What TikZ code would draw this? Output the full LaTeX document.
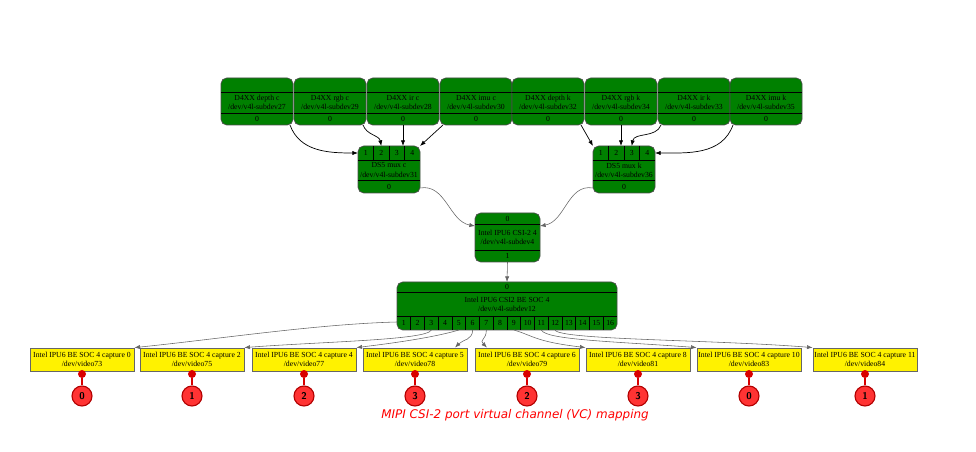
\documentclass[tikz,border=0pt]{standalone}
\usepackage{fontspec}
\setmainfont{Liberation Serif}
\newfontfamily\notefont{DejaVu Sans}
\usetikzlibrary{calc,positioning,arrows.meta}

\tikzset{
	ent/.style={draw=black!70, fill=green!50!black, rounded corners=4pt, line width=0.5pt},
	capbox/.style={draw=black!60, fill=yellow, line width=0.6pt, minimum width=104*0.025cm, minimum height=23*0.025cm, inner sep=0pt, align=center, font=\fontsize{5.5}{6.5}\selectfont},
	txt/.style={font=\fontsize{5.5}{6.5}\selectfont, align=center, inner sep=0pt},
	link/.style={-{Latex[length=4pt,width=3pt]}, line width=0.5pt},
	slink/.style={-{Latex[length=4pt,width=3pt]}, draw=black!60, line width=0.4pt},
	vcdot/.style={circle, fill=red!85!black, minimum size=8*0.025cm, inner sep=0pt},
	vc/.style={circle, draw=red!70!black, fill=red!80, line width=0.8pt, minimum size=20*0.025cm, inner sep=0pt, font=\sffamily\bfseries\fontsize{7}{8}\selectfont},
}

\begin{document}
\begin{tikzpicture}[x=0.025cm, y=-0.025cm]
			\useasboundingbox (0,0) rectangle (976,452);

			% sensor entities: name / centre x / kind / subdev
			\foreach \n/\cx/\kind/\sd in {dc/257/depth c/27, rc/330/rgb c/29, ic/403/ir c/28, uc/476/imu c/30,
				dk/548/depth k/32, rk/621/rgb k/34, ik/694/ir k/33, uk/766/imu k/35}{
				\draw[ent] (\cx-36,78) rectangle (\cx+36,125);
				\draw (\cx-36,92) -- (\cx+36,92) (\cx-36,113) -- (\cx+36,113);
				\node[txt] (\n) at (\cx,102.5) {D4XX \kind\\/dev/v4l-subdev\sd};
				\node[txt] (\n0) at (\cx,119) {0};
				\coordinate (\n-b) at (\cx,125);
			}

			% mux entities
			\foreach \n/\cx/\kind/\sd in {muxc/389/c/31, muxk/624/k/36}{
				\draw[ent] (\cx-31,146) rectangle (\cx+31,193);
				\draw (\cx-31,160) -- (\cx+31,160) (\cx-31,180) -- (\cx+31,180);
				\foreach \p in {1,2,3}
					\draw (\cx-31+\p*15.5,146) -- (\cx-31+\p*15.5,160);
				\foreach \p in {1,...,4}{
					\node[txt] (\n\p) at (\cx-31+\p*15.5-7.75,153) {\p};
					\coordinate (\n-t\p) at (\cx-31+\p*15.5-7.75,146);
				}
				\node[txt] (\n) at (\cx,170) {DS5 mux \kind\\/dev/v4l-subdev\sd};
				\node[txt] (\n0) at (\cx,186.5) {0};
				\coordinate (\n-w) at (\cx-31,153);
				\coordinate (\n-e) at (\cx+31,153);
				\coordinate (\n-nw) at (\cx-31,146);
				\coordinate (\n-ne) at (\cx+31,146);
				\coordinate (\n-ow) at (\cx-31,188);
				\coordinate (\n-oe) at (\cx+31,188);
			}

			% csi-2 receiver
			\draw[ent] (475,213) rectangle (540,262);
			\draw (475,224) -- (540,224) (475,250) -- (540,250);
			\node[txt] (csi0) at (507.5,218.5) {0};
			\node[txt] (csi) at (507.5,237) {Intel IPU6 CSI-2 4\\/dev/v4l-subdev4};
			\node[txt] (csi1) at (507.5,256) {1};
			\coordinate (csiL) at (475,226);
			\coordinate (csiR) at (540,226);
			\coordinate (csiB) at (507.5,262);

			% back end
			\draw[ent] (397,282) rectangle (617,330);
			\draw (397,292) -- (617,292) (397,316) -- (617,316);
			\foreach \p in {1,...,15}
				\draw (397+\p*13.75,316) -- (397+\p*13.75,330);
			\node[txt] (be0) at (507,287) {0};
			\node[txt] (be) at (507,304) {Intel IPU6 CSI2 BE SOC 4\\/dev/v4l-subdev12};
			\foreach \p in {1,...,16}{
				\node[txt] (be\p) at (397+\p*13.75-6.875,323) {\p};
				\coordinate (be-b\p) at (397+\p*13.75-6.875,330);
			}
			\coordinate (beT) at (507,282);
			\coordinate (beW) at (397,322);

			% capture nodes and VC markers
			\foreach \n/\cx/\c/\vid/\v in {c0/82/0/73/0, c2/192/2/75/1, c4/304/4/77/2, c5/415/5/78/3,
				c6/527/6/79/2, c8/638/8/81/3, c10/749/10/83/0, c11/865/11/84/1}{
				\node[capbox] (\n) at (\cx,359.5) {Intel IPU6 BE SOC 4 capture \c\\/dev/video\vid};
				\node[vcdot] (\n-d) at (\cx,374) {};
				\node[vc] (\n-v) at (\cx,396) {\v};
				\draw[red!85!black, line width=1.2pt] (\n-d) -- (\n-v);
			}

			% sensor links
			\draw[link] (dc-b) ++(33,0) to[out=-70,in=180] (muxc-w);
			\draw[link] (rc-b) ++(33,0) to[out=-70,in=100] (muxc-t2);
			\draw[link] (ic-b) -- (muxc-t3 -| ic-b);
			\draw[link] (uc-b) ++(-33,0) -- (muxc-ne);
			\draw[link] (dk-b) ++(33,0) -- (muxk-nw);
			\draw[link] (rk-b) -- (muxk-t2 -| rk-b);
			\draw[link] (ik-b) ++(-33,0) to[out=-110,in=80] (muxk-t3);
			\draw[link] (uk-b) ++(-33,0) to[out=-110,in=0] (muxk-e);

			% mux to csi-2 to back end
			\draw[slink] (muxc-oe) to[out=10,in=170] (csiL);
			\draw[slink] (muxk-ow) to[out=170,in=10] (csiR);
			\draw[slink] (csiB) -- (beT);

			% back end to captures
			\draw[slink] (beW) .. controls +(-80,2) and +(80,-8) .. (c0.north east);
			\draw[slink] (be-b3) .. controls +(-4,10) and +(80,-6) .. (c2.north east);
			\draw[slink] (be-b5) .. controls +(-20,6) and +(50,-6) .. (c4.north east);
			\draw[slink] (be-b6) .. controls +(0,10) and +(8,-8) .. ($(c5.north)+(40,0)$);
			\draw[slink] (be-b7) .. controls +(0,10) and +(-8,-8) .. ($(c6.north)+(-40,0)$);
			\draw[slink] (be-b9) .. controls +(20,6) and +(-50,-6) .. (c8.north west);
			\draw[slink] (be-b11) .. controls +(4,10) and +(-80,-6) .. (c10.north west);
			\draw[slink] (be-b12) .. controls +(4,10) and +(-100,-8) .. (c11.north west);

			\node[font=\notefont\itshape\fontsize{8.5}{10}\selectfont, text=red] (note) at (515,415) {MIPI CSI-2 port virtual channel (VC) mapping};
		\end{tikzpicture}
\end{document}
